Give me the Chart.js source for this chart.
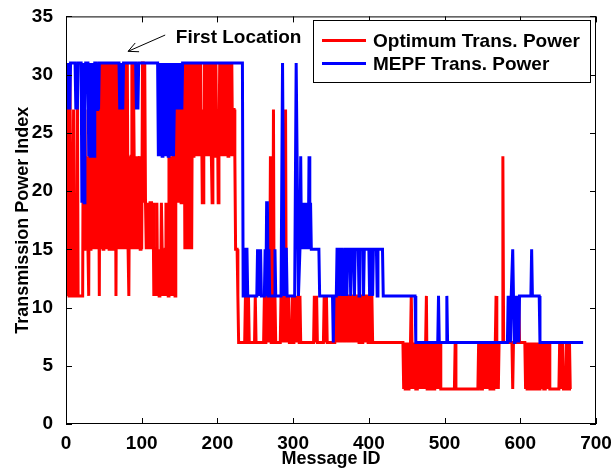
<!DOCTYPE html>
<html>
<head>
<meta charset="utf-8">
<script src="https://cdn.jsdelivr.net/npm/chart.js@4/dist/chart.umd.min.js"></script>
<style>
  html, body { margin: 0; padding: 0; background: #fff; }
  #wrap { width: 616px; height: 470px; }
</style>
</head>
<body>
<div id="wrap"><canvas id="powerChart"></canvas></div>
<script>
// [message id, power index] vertices of each trace
const optPoints = [
  [0,19],[1,11],[2,31],[3,15],[4,11],[5,31],[6,23],[7,11],[9,11],[10,27],[11,11],[14,11],[15,31],[16,11],[22,11],[23,31],[24,15],[25,27],[26,19],[27,15],[28,23],[29,15],[30,11],
  [31,27],[32,15],[33,31],[34,23],[35,15],[36,31],[37,19],[38,27],[39,15],[40,31],[41,23],[42,15],[43,27],[44,11],
  [45,31],[46,15],[47,27],[48,31],[49,15],[50,23],[51,31],[52,19],[53,31],[54,15],[55,27],[56,31],[57,15],[58,31],[59,23],[60,31],[61,15],[62,27],[63,31],[64,19],[65,31],[66,11],
  [67,27],[68,15],[69,31],[70,23],[71,31],[72,15],[73,27],[74,31],[75,15],[76,31],[77,19],[78,31],[79,15],[80,27],[81,31],[82,15],[83,11],
  [84,23],[85,15],[86,23],[87,31],[88,15],[89,31],[90,23],[91,15],[92,23],[93,15],[94,23],[95,15],[96,19],[97,23],[98,15],[99,23],[100,15],
  [101,31],[102,31],[103,19],[104,31],[105,19],[106,15],[107,19],[108,15],[109,19],[110,15],[111,19],[113,19],[114,15],[115,19],[116,11],
  [117,15],[118,11],[119,15],[120,19],[121,11],[122,15],[123,11],[124,15],[125,11],[126,19],[127,15],[128,11],[129,15],[130,11],[131,15],[132,19],[133,11],[134,15],[135,11],[136,23],[137,15],[138,11],[139,23],[140,15],[141,11],[142,31],[143,15],[144,11],
  [145,31],[146,19],[147,27],[148,31],[149,19],[150,31],[151,23],[152,19],[153,31],[154,27],[155,19],
  [156,31],[157,15],[158,31],[159,15],[160,27],[161,15],[162,31],[163,15],[164,23],[165,31],[166,15],[167,31],
  [168,23],[169,31],[170,27],[171,23],[172,31],[173,23],[174,27],[175,31],[176,23],[177,31],[178,23],[179,27],[180,19],[181,19],[182,23],[183,31],[184,23],[185,27],[186,31],[187,23],[188,31],[189,27],[190,23],[191,31],[192,23],[193,19],[194,23],[195,31],[196,27],[197,23],[198,31],[199,23],[200,27],[201,19],[202,23],[203,31],[204,23],[205,27],[206,31],[207,23],[208,31],
  [209,23],[210,27],[211,31],[212,23],[213,27],[214,23],[215,31],[216,27],[217,23],[218,27],[219,31],[220,23],[221,27],[222,27],[223,23],[224,15],[226,15],[227,11],[228,7],
  [236,7],[237,11],[238,7],[239,11],[240,7],[241,11],[242,7],[249,7],[250,11],[251,7],[261,7],[262,11],[263,7],[264,11],[265,7],[266,11],[267,11],[268,7],[269,11],[270,23],[271,7],[272,11],[273,7],[274,27],[275,7],[276,11],[277,7],
  [283,7],[284,11],[285,7],[286,11],[287,7],[288,11],[289,7],[290,27],[291,7],[292,11],[293,7],[294,11],[295,7],[298,7],[299,11],[300,7],[301,11],[302,7],[304,11],[305,7],[307,11],[308,7],[309,11],[310,7],
  [327,7],[328,11],[329,7],[331,11],[332,7],[340,7],[341,11],[342,7],[344,11],[345,7],[355,7],
  [356,11],[357,7],[358,11],[360,11],[361,7],[362,11],[363,7],[364,11],[366,11],[367,7],[368,11],[369,7],[370,11],[372,11],[373,7],[374,11],[375,7],[376,11],[378,11],[379,7],[380,11],[381,7],[382,11],[384,11],[385,7],[386,11],[387,7],[388,11],[390,11],[391,7],[392,11],[393,7],[394,11],[396,11],[397,7],[398,11],[399,7],[400,11],[402,11],[403,7],[404,11],[405,7],[445,7],
  [446,3],[447,7],[448,3],[449,7],[450,3],[451,7],[452,3],[453,7],[454,3],[455,7],[456,11],[457,7],[458,3],[459,7],[460,3],[461,7],[462,3],[464,3],[465,7],[466,3],[467,7],[468,3],[469,7],[470,3],[471,7],[472,3],[473,7],[474,3],[475,7],[476,11],[477,3],[478,7],[479,3],[480,7],[481,3],[482,7],[483,3],[484,7],[485,3],[487,3],[488,7],[489,3],[490,7],[491,3],[492,7],[493,3],[494,7],[495,3],[497,3],[513,3],[514,7],[515,3],
  [544,3],[545,7],[546,3],[547,7],[548,3],[550,3],[551,7],[552,3],[553,7],[554,3],[555,7],[556,3],[557,7],[558,3],[559,7],[560,3],[561,7],[562,3],[563,7],[564,3],[565,7],[566,3],[567,7],[568,11],[569,3],[570,7],[571,3],[572,7],[576,7],[577,23],[578,7],[589,7],[590,3],[591,7],[597,7],[598,11],[599,7],[606,7],
  [607,3],[608,7],[609,3],[610,7],[611,3],[613,3],[614,7],[615,3],[616,7],[617,3],[618,7],[619,3],[620,7],[621,3],[623,3],[624,7],[625,3],[626,7],[627,3],[628,7],[629,3],[630,7],[631,3],[633,3],[634,7],[635,3],[636,7],[637,3],[638,7],[639,3],[651,3],[652,7],[653,3],[654,7],[655,3],[656,7],[657,3],[660,3],[661,7],[662,3],[664,3],[665,7],[666,3],[667,3]
];

const mepfPoints = [
  [0,31],[1,27],[2,31],[3,27],[4,31],[5,27],[6,31],[12,31],[13,27],[14,31],[15,27],[16,31],[20,31],[21,19],[22,31],[23,23],[24,19],[25,27],[26,31],
  [29,31],[30,23],[31,31],[32,23],[33,27],[34,31],[35,23],[36,31],[37,23],[38,31],[40,31],[41,27],[42,31],[43,27],[44,31],
  [70,31],[71,27],[72,31],[73,27],[74,31],[75,27],[76,31],[92,31],[93,27],[94,31],[95,27],[96,31],
  [121,31],[122,23],[123,31],[124,27],[125,23],[126,31],[127,23],[128,27],[129,31],[130,23],[131,31],[132,23],[133,27],[134,31],[135,23],[136,31],[137,27],[138,23],[139,31],[140,27],[141,31],[142,23],[143,27],[144,31],[145,27],[146,31],[147,27],[148,31],[149,27],[150,31],[151,27],[152,31],[153,27],[154,31],
  [233,31],[234,11],[236,11],[237,15],[239,15],[240,11],[252,11],[253,15],[254,11],[257,15],[258,11],[262,11],[263,15],[264,11],[265,19],[266,19],[267,11],[268,15],[269,11],[275,11],[276,15],[277,11],[284,11],[286,31],[288,11],[290,15],[291,15],[292,11],
  [302,11],[304,31],[305,31],[307,11],[309,15],[310,23],[311,15],[313,19],[314,15],[316,19],[317,15],[319,19],[320,15],[321,23],[322,15],[323,19],[324,15],[334,15],[335,11],[352,11],[353,7],[354,11],[357,11],
  [358,15],[360,15],[361,11],[362,15],[364,15],[365,11],[366,15],[367,11],[368,15],[370,15],[371,11],[372,15],[375,15],[376,11],[377,15],[380,15],[381,11],[382,15],[386,15],[387,11],[388,15],[392,15],[393,11],[394,15],[400,15],[401,11],[402,15],[404,15],[405,11],[406,15],[410,15],[411,11],[412,15],[418,15],[419,11],
  [461,11],[462,7],[491,7],[492,11],[493,7],[502,7],[503,11],[504,7],
  [583,7],[584,11],[585,7],[586,11],[587,7],[588,11],[589,11],[590,15],[591,11],[592,7],[593,11],[594,7],[595,11],[596,7],[597,11],[598,7],[599,11],[614,11],[615,15],[616,11],[625,11],[626,7],[683,7]
];

const seriesNames = ['Optimum Trans. Power', 'MEPF Trans. Power'];
const seriesColors = ['#ff0000', '#0000ff'];
const idRange = [0, 700];
const powerRange = [0, 35];
const noteText = 'First Location';

const fontFamily = '"Liberation Sans", Arial, sans-serif';
const boldFont = 'bold 19px ' + fontFamily;

const toXY = pts => pts.map(p => ({ x: p[0], y: p[1] }));

const frameAndNotes = {
  id: 'frameAndNotes',
  afterDatasetsDraw(chart) {
    const { ctx, chartArea: a, scales: { x, y } } = chart;
    ctx.save();
    ctx.strokeStyle = '#000';
    ctx.lineWidth = 1;
    ctx.strokeRect(a.left + 0.5, a.top + 0.5, a.right - a.left - 1, a.bottom - a.top - 1);
    // inward ticks on all four sides
    const tl = 6;
    ctx.beginPath();
    x.ticks.forEach(t => {
      const px = Math.round(x.getPixelForValue(t.value)) + 0.5;
      ctx.moveTo(px, a.bottom); ctx.lineTo(px, a.bottom - tl);
      ctx.moveTo(px, a.top); ctx.lineTo(px, a.top + tl);
    });
    y.ticks.forEach(t => {
      const py = Math.round(y.getPixelForValue(t.value)) + 0.5;
      ctx.moveTo(a.left, py); ctx.lineTo(a.left + tl, py);
      ctx.moveTo(a.right, py); ctx.lineTo(a.right - tl, py);
    });
    ctx.stroke();

    // annotation arrow and text
    const sx = x.getPixelForValue(131), sy = y.getPixelForValue(33.4);
    const ex = x.getPixelForValue(82), ey = y.getPixelForValue(32.0);
    ctx.beginPath();
    ctx.moveTo(sx, sy); ctx.lineTo(ex, ey);
    const ang = Math.atan2(ey - sy, ex - sx);
    ctx.moveTo(ex, ey); ctx.lineTo(ex - 11 * Math.cos(ang - 0.45), ey - 11 * Math.sin(ang - 0.45));
    ctx.moveTo(ex, ey); ctx.lineTo(ex - 11 * Math.cos(ang + 0.45), ey - 11 * Math.sin(ang + 0.45));
    ctx.stroke();
    ctx.fillStyle = '#000';
    ctx.font = boldFont;
    ctx.textBaseline = 'middle';
    ctx.textAlign = 'left';
    ctx.fillText(noteText, x.getPixelForValue(145), y.getPixelForValue(33.2));

    // legend box
    const lw = 277, lh = 62;
    const lx = a.right - 6 - lw, ly = a.top + 4;
    ctx.fillStyle = '#fff';
    ctx.fillRect(lx, ly, lw, lh);
    ctx.strokeRect(Math.round(lx) + 0.5, Math.round(ly) + 0.5, lw, lh);
    seriesNames.forEach((name, i) => {
      const rowY = ly + 20 + i * 23;
      ctx.strokeStyle = seriesColors[i];
      ctx.lineWidth = 3;
      ctx.beginPath();
      ctx.moveTo(lx + 9, rowY); ctx.lineTo(lx + 53, rowY);
      ctx.stroke();
      ctx.fillStyle = '#000';
      ctx.fillText(name, lx + 60, rowY + 1);
    });
    ctx.restore();
  }
};

new Chart(document.getElementById('powerChart'), {
  type: 'line',
  data: {
    datasets: [
      { label: seriesNames[0], data: toXY(optPoints), borderColor: seriesColors[0], borderWidth: 3, pointRadius: 0, order: 2 },
      { label: seriesNames[1], data: toXY(mepfPoints), borderColor: seriesColors[1], borderWidth: 3, pointRadius: 0, order: 1 }
    ]
  },
  options: {
    responsive: true,
    maintainAspectRatio: false,
    animation: false,
    layout: { padding: { top: 14, right: 20, left: 0, bottom: 0 } },
    elements: { line: { tension: 0, borderJoinStyle: 'miter', borderCapStyle: 'butt' } },
    plugins: { legend: { display: false }, tooltip: { enabled: false } },
    scales: {
      x: {
        type: 'linear',
        min: idRange[0], max: idRange[1],
        grid: { display: false },
        border: { display: false },
        ticks: { stepSize: 100, color: '#000', padding: 0, maxRotation: 0, font: { family: fontFamily, size: 19, weight: 'bold' } },
        title: { display: true, text: 'Message ID', color: '#000', padding: { top: -6, bottom: 0 }, font: { family: fontFamily, size: 18, weight: 'bold' } },
        afterFit(scale) { scale.height = 46; }
      },
      y: {
        min: powerRange[0], max: powerRange[1],
        grid: { display: false },
        border: { display: false },
        ticks: { stepSize: 5, color: '#000', padding: 5, font: { family: fontFamily, size: 19, weight: 'bold' } },
        title: { display: true, text: 'Transmission Power Index', color: '#000', padding: { top: 12, bottom: 0 }, font: { family: fontFamily, size: 18, weight: 'bold' } },
        afterFit(scale) { scale.width = 66; }
      }
    }
  },
  plugins: [frameAndNotes]
});
</script>
</body>
</html>
